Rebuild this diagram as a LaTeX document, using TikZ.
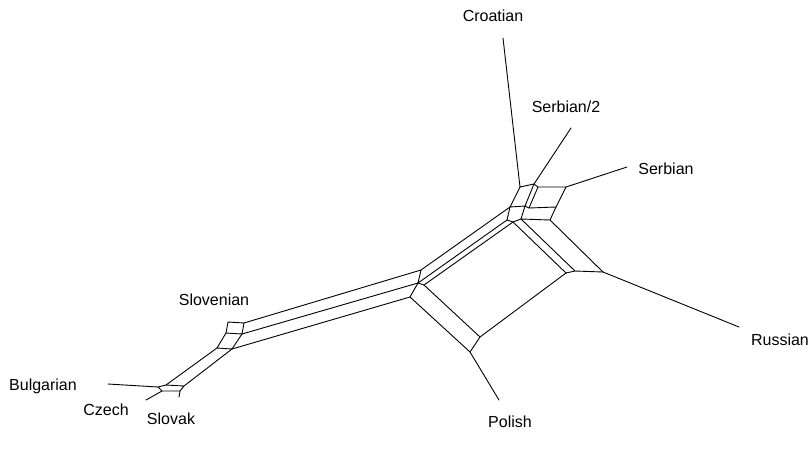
\documentclass[tikz,border=0pt]{standalone}
\usepackage{fontspec}
\setmainfont{Liberation Sans}
\begin{document}
\begin{tikzpicture}[x=1pt,y=-1pt,
  edge/.style={line width=0.9pt,black,line join=round,line cap=round},
  taxon/.style={font=\fontsize{16}{19}\selectfont,inner sep=0pt,anchor=center}]
\useasboundingbox (0,0) rectangle (812,459);

% ---- pendant tips ----
\coordinate (cro-t) at (503,38);
\coordinate (s2-t)  at (571,128);
\coordinate (ser-t) at (627,167);
\coordinate (rus-t) at (739,327);
\coordinate (pol-t) at (499,400);
\coordinate (bul-t) at (108,384);
\coordinate (cze-t) at (146,400);
\coordinate (slk-t) at (179,397);

% ---- upper cluster ----
\coordinate (cro) at (520,187);
\coordinate (x)   at (534,184);
\coordinate (x2)  at (538,187);
\coordinate (ser) at (566,187);
\coordinate (l1)  at (510,207);
\coordinate (m1)  at (525,206);
\coordinate (m1b) at (529,208);
\coordinate (m2)  at (556,207);
\coordinate (l2)  at (507,220);
\coordinate (b1)  at (513,222);
\coordinate (b2)  at (521,219);
\coordinate (t5)  at (550,220);

% ---- right side ----
\coordinate (r3) at (566,273);
\coordinate (r2) at (575,271);
\coordinate (r1) at (603,272);

% ---- central junction ----
\coordinate (j1) at (421,270);
\coordinate (j2) at (418,283);
\coordinate (j3) at (424,285);
\coordinate (j4) at (410,297);

% ---- lower box ----
\coordinate (p2) at (480,337);
\coordinate (p1) at (470,352);

% ---- Slovenian box ----
\coordinate (v0)  at (228,322);
\coordinate (v1)  at (244,323);
\coordinate (v0b) at (226,333);
\coordinate (v2)  at (242,334);
\coordinate (v4)  at (217,348);
\coordinate (v3)  at (232,349);

% ---- lower-left box ----
\coordinate (k0) at (158,387);
\coordinate (k1) at (166,385);
\coordinate (k2) at (184,386);
\coordinate (k3) at (162,391);
\coordinate (k4) at (180,391);

% pendant edges
\draw[edge] (cro) -- (cro-t);
\draw[edge] (x) -- (s2-t);
\draw[edge] (ser) -- (ser-t);
\draw[edge] (r1) -- (rus-t);
\draw[edge] (p1) -- (pol-t);
\draw[edge] (k0) -- (bul-t);
\draw[edge] (k3) -- (cze-t);
\draw[edge] (k4) -- (slk-t);

% upper cluster
\draw[edge] (cro) -- (x) -- (x2) -- (ser) -- (m2) -- (m1b) -- (x2);
\draw[edge] (x) -- (m1) -- (m1b);
\draw[edge] (cro) -- (l1) -- (m1) -- (b2) -- (t5) -- (m2);
\draw[edge] (l1) -- (l2) -- (b1) -- (b2);

% bands from the cluster
\draw[edge] (l1) -- (j1);
\draw[edge] (l2) -- (j2);
\draw[edge] (b1) -- (j3);
\draw[edge] (b1) -- (r3);
\draw[edge] (b2) -- (r2);
\draw[edge] (t5) -- (r1);
\draw[edge] (r3) -- (r2) -- (r1);
\draw[edge] (r3) -- (p2);

% central junction and lower box
\draw[edge] (j1) -- (j2) -- (j3);
\draw[edge] (j2) -- (j4);
\draw[edge] (j3) -- (p2) -- (p1) -- (j4);

% long band to the Slovenian box
\draw[edge] (j1) -- (v1);
\draw[edge] (j2) -- (v2);
\draw[edge] (j4) -- (v3);
\draw[edge] (v0) -- (v1) -- (v2) -- (v0b) -- (v0);
\draw[edge] (v0b) -- (v4) -- (v3) -- (v2);

% down to the lower-left box
\draw[edge] (v4) -- (k1);
\draw[edge] (v3) -- (k2);
\draw[edge] (k0) -- (k1) -- (k2) -- (k4) -- (k3) -- (k0);

% taxon labels
\node[taxon] (lcro) at (493,16)  {Croatian};
\node[taxon] (ls2)  at (566,107) {Serbian/2};
\node[taxon] (lser) at (666,169) {Serbian};
\node[taxon] (lrus) at (780,340) {Russian};
\node[taxon] (lpol) at (510,422) {Polish};
\node[taxon] (lslv) at (214,300) {Slovenian};
\node[taxon] (lbul) at (43,386)  {Bulgarian};
\node[taxon] (lcze) at (106,410) {Czech};
\node[taxon] (lslk) at (171,419) {Slovak};
\end{tikzpicture}
\end{document}
